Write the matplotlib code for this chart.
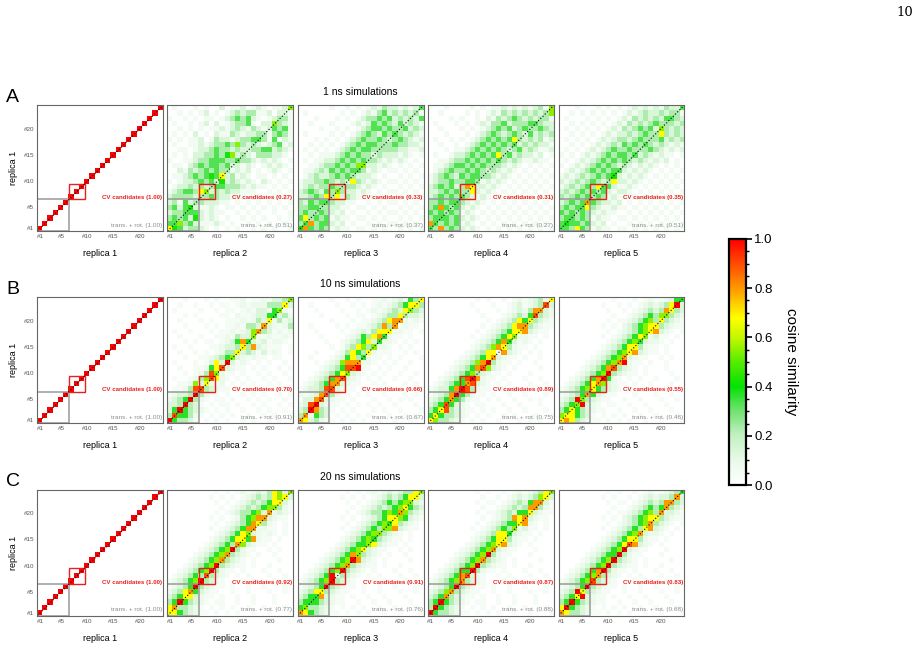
import numpy as np
import matplotlib
matplotlib.use("Agg")
from matplotlib import pyplot as plt
from matplotlib.colors import LinearSegmentedColormap
from matplotlib.patches import Rectangle
from matplotlib.cm import ScalarMappable
from matplotlib.colors import Normalize

plt.rcParams['font.family'] = ['Liberation Sans', 'DejaVu Sans']

# cosine similarity, replica 1 (rows, #24 at top) vs replica k (columns)
# one hex digit per cell = a similarity level, see the level tables
levels_1ns = [0.0, 0.06, 0.14, 0.23, 0.33, 0.42, 0.55, 0.68, 0.8, 0.9, 1.0]
levels_long = [0.0, 0.04, 0.08, 0.13, 0.22, 0.37, 0.55, 0.68, 0.8, 0.9, 1.0]

rep2_1ns = [
    "010001 010020 112012 101127", "001010 120101 232331 120241",
    "100101 011012 343421 012131", "010010 120201 233410 221321",
    "001010 101121 232132 124341", "010102 010211 321223 413431",
    "101011 201322 123343 314121", "010011 212334 363232 123412",
    "001101 223433 232333 442321", "010102 233435 622213 332210",
    "100112 334443 323321 212101", "011023 434434 321210 121210",
    "002132 343432 121201 012101", "011234 345472 312101 101010",
    "101223 434752 321210 210101", "012232 324443 332121 101010",
    "123443 722323 221110 010101", "233332 534322 111011 001010",
    "231423 322211 010101 010101", "342432 112101 101010 101010",
    "233344 212110 010101 001001", "343425 212101 001010 100101",
    "436342 111210 100101 010010", "754233 210101 010010 101001",
]
rep2_1ns_diag = [7, 4, 3, 4, 5, 3, 3, 6, 3, 2, 7, 3, 2, 4, 3, 2, 3, 4, 3, 2, 6, 3, 2, 6]

rep3_1ns = [
    "000000 100101 012132 212121", "010000 001010 121342 323211",
    "000100 010101 233434 232124", "001000 100012 124343 242321",
    "000010 010101 234434 324232", "010000 101012 343243 432321",
    "000101 010123 433434 343212", "001010 101234 344343 433221",
    "010101 012343 443433 322112", "001011 123434 334322 212101",
    "010112 234343 433212 121010", "001123 343436 322121 010101",
    "011232 434347 312101 101010", "012322 343472 221010 010101",
    "122334 323273 212101 101010", "123233 432332 121010 010101",
    "234324 343221 210101 101010", "223437 472321 101010 010101",
    "324342 322110 010101 101010", "334433 221101 101010 010101",
    "343443 212010 010101 101010", "473434 121101 101010 010101",
    "348344 212010 010101 101010", "584343 121101 101010 010101",
]
rep3_1ns_diag = [5, 4, 3, 3, 3, 4, 3, 6, 3, 2, 3, 4, 6, 3, 2, 3, 3, 2, 4, 3, 2, 3, 3, 4]

rep4_1ns = [
    "000100 001010 112121 212313", "001000 010101 213232 323246",
    "000010 100102 132343 232431", "010001 010121 334233 342322",
    "001000 101012 343423 423432", "000100 010123 432343 342323",
    "010010 101234 343473 232312", "001001 012343 434342 323221",
    "000101 123434 343434 232112", "010012 234343 473423 221201",
    "001123 343434 343232 112110", "011234 434343 432121 010101",
    "012343 343432 321210 101010", "123432 434423 212101 010101",
    "123343 344312 121010 101010", "234342 383221 210101 010101",
    "223434 347212 101010 101010", "234343 432121 010101 010101",
    "334342 321210 101010 101010", "348434 212101 010101 010101",
    "434343 121010 101010 101010", "343434 212101 010101 010101",
    "843434 121010 101010 101010", "438343 212101 010101 010101",
]
rep4_1ns_diag = [4, 4, 4, 3, 3, 4, 4, 3, 7, 3, 3, 2, 3, 4, 3, 2, 4, 3, 2, 3, 4, 3, 3, 6]

rep5_1ns = [
    "000100 010101 012121 213223", "001010 101010 121232 232361",
    "010001 010101 213232 324232", "001010 101012 132323 432323",
    "010101 010121 323434 243232", "001010 101212 232343 473232",
    "010101 012123 323434 342323", "001010 121232 434343 232121",
    "010101 212343 343434 321212", "101012 123434 434232 121101",
    "010121 234343 432321 212010", "101212 343432 321212 101010",
    "012123 434346 212121 010101", "121232 343432 121210 101010",
    "212323 432372 212101 010101", "123234 373421 121010 101010",
    "232343 434212 210101 010101", "323434 343121 101010 101010",
    "234343 432212 010101 010101", "343437 321121 101010 101010",
    "434343 212110 010101 010101", "347343 121101 101010 101010",
    "434434 212010 010101 010101", "343743 121101 101010 101010",
]
rep5_1ns_diag = [4, 5, 4, 3, 4, 8, 3, 3, 4, 3, 5, 4, 3, 3, 4, 3, 4, 3, 3, 6, 3, 4, 3, 4]

rep2_10ns = [
    "000100 010100 112011 213346", "001001 001011 012122 244473",
    "010000 100101 101213 325621", "000101 000011 021123 355342",
    "001000 101001 112124 372423", "000100 010101 121443 832124",
    "010010 001011 212368 431212", "001000 100112 143362 121121",
    "000101 011012 358432 312210", "010010 001123 347483 211101",
    "001001 010124 473431 312101", "000100 112345 632121 101100",
    "010001 01373a 312101 010010", "001001 125793 211010 100101",
    "000101 249621 101001 010010", "010012 469721 010100 101001",
    "001126 372120 101010 010100", "011249 943211 010101 001010",
    "123349 421101 001010 100101", "2345a4 210110 100101 010010",
    "334a43 101011 010010 100101", "35a543 210101 001001 010010",
    "4a5542 101010 100100 101001", "a54431 010101 001010 010100",
]
rep2_10ns_diag = [10, 9, 10, 10, 10, 10, 9, 7, 9, 6, 9, 10, 6, 7, 7, 5, 6, 8, 8, 7, 5, 6, 7, 6]

rep3_10ns = [
    "000000 100101 001121 232547", "001000 010010 101212 345774",
    "000100 001001 012123 437443", "000010 000101 101234 474332",
    "000000 100010 112347 832121", "001000 010101 123484 212110",
    "000100 001012 324773 221101", "000010 000123 547832 110100",
    "000001 001234 573222 101010", "000000 101347 642221 010100",
    "000100 012475 432111 001010", "001000 123574 321101 010001",
    "000101 236885 221010 100100", "000012 34594a 110101 001000",
    "000123 457a32 101010 010010", "001234 589321 010100 100100",
    "012345 893211 001010 001010", "123349 932110 100101 010001",
    "212389 421101 010010 001010", "133893 211010 001001 010100",
    "239a32 110101 010100 100010", "34a843 101010 001010 010001",
    "482543 010101 010001 001010", "873421 101010 100100 100100",
]
rep3_10ns_diag = [8, 8, 10, 10, 9, 9, 9, 8, 9, 6, 9, 8, 5, 7, 6, 5, 5, 7, 8, 8, 4, 6, 7, 7]

rep4_10ns = [
    "000000 000101 001012 123427", "000000 001000 100123 123493",
    "000000 000100 010123 248832", "000000 000010 001234 359432",
    "000000 000001 012347 574321", "000000 000010 123478 843211",
    "000000 000101 234577 832110", "000000 001012 345752 211010",
    "000000 000123 458531 210100", "000000 001234 687421 101000",
    "000000 012347 718321 010100", "000000 123457 832110 100100",
    "000001 23468a 421101 001000", "000012 345896 321010 000100",
    "000123 456432 110100 010000", "001234 59a821 101000 100100",
    "012345 589321 010100 010010", "123358 a94211 001010 001001",
    "12348a 542110 100100 100010", "234585 421101 010010 010100",
    "345953 210110 001001 000100", "457943 211010 100100 100010",
    "575443 210101 001010 001001", "764432 101010 010001 010100",
]
rep4_10ns_diag = [7, 7, 7, 9, 8, 10, 10, 8, 10, 4, 9, 10, 8, 1, 7, 5, 6, 7, 8, 7, 9, 8, 9, 7]

rep5_10ns = [
    "000000 000010 001012 112354", "000000 001001 010123 2347a3",
    "000000 000100 101234 348743", "000000 000010 012345 466432",
    "000000 000101 123456 474321", "000000 001010 234567 743211",
    "000000 000101 234567 832101", "000000 001012 345762 311010",
    "000000 000123 456532 210100", "000000 001234 577421 101000",
    "000000 012345 678321 101000", "000000 123456 832110 010100",
    "000001 234568 a21101 001000", "000012 345894 321010 001000",
    "000123 456a43 211010 000100", "001234 58a521 010100 100010",
    "012345 786321 101001 000100", "123456 754321 010010 001000",
    "123458 532110 001000 100100", "234a64 321100 100100 010010",
    "3456a3 210110 010010 001000", "457543 211001 001001 000100",
    "677543 101010 100100 100010", "787432 110101 010010 010001",
]
rep5_10ns_diag = [7, 7, 7, 6, 6, 8, 7, 8, 10, 10, 9, 8, 8, 7, 7, 5, 6, 7, 7, 7, 6, 7, 10, 5]

rep2_20ns = [
    "000000 000101 012123 247634", "000000 001010 101234 347673",
    "000000 000101 012343 457431", "000000 000010 123434 563421",
    "000000 000101 234456 382321", "000000 001010 124568 832110",
    "000000 000101 234587 421010", "000000 001012 345882 211010",
    "000000 000123 457632 121010", "000000 001234 578582 110100",
    "000000 012345 486321 101000", "000000 123456 a42110 010100",
    "000001 234568 432101 001000", "000012 345684 321010 000100",
    "000123 456a43 211010 010000", "001234 56a421 101000 100100",
    "012345 494321 010100 010010", "123456 a43210 001010 001000",
    "12345a 432110 100100 100010", "234785 321100 100100 010010",
    "345773 211010 010010 001000", "45a543 210110 010010 001000",
    "784432 101010 100100 100010", "775432 110101 010010 010001",
]
rep2_20ns_diag = [7, 8, 10, 7, 8, 10, 10, 9, 10, 10, 8, 8, 10, 8, 7, 6, 8, 7, 8, 8, 6, 7, 7, 6]

rep3_20ns = [
    "000000 000101 012123 234476", "000000 001010 101234 345773",
    "000000 000101 012345 456732", "000000 000010 123434 567543",
    "000000 000101 234456 586432", "000000 001010 123457 765321",
    "000000 000101 234565 743210", "000000 001012 345456 832110",
    "000000 000123 456743 210100", "000000 001234 567432 110100",
    "000000 012345 577321 101000", "000000 123456 732110 010100",
    "000001 234586 432101 001000", "000012 345698 321010 000100",
    "000123 456843 211010 010000", "001234 56a432 101000 100100",
    "012345 a24321 010100 010010", "123456 a43210 001010 001000",
    "12345a 432110 100100 100010", "234774 321100 100100 010010",
    "345583 211010 010010 001000", "455543 211001 001001 000100",
    "564432 101010 100100 100010", "875432 110101 010010 010001",
]
rep3_20ns_diag = [8, 6, 5, 5, 7, 10, 10, 2, 10, 8, 10, 6, 7, 6, 5, 6, 6, 5, 7, 8, 7, 6, 7, 6]

rep4_20ns = [
    "000000 000101 001012 123476", "000000 000010 010123 234673",
    "000000 000101 101234 358731", "000000 000010 012343 483421",
    "000000 000101 123435 573211", "000000 000010 123487 832110",
    "000000 000101 234557 821010", "000000 001012 345462 311010",
    "000000 000123 477532 110100", "000000 001234 577421 101000",
    "000000 012345 678321 010000", "000000 123456 832110 001000",
    "000001 23456a 421100 010000", "000012 345684 321010 000100",
    "000123 456a43 211010 010000", "001234 55a421 101000 100100",
    "012345 893210 010100 010010", "123456 843210 001010 001000",
    "12345a 432110 100100 100010", "234684 321100 100100 010010",
    "345843 211010 010010 001000", "45a543 210110 010010 001000",
    "4a5432 101010 100100 100010", "a54432 110101 010010 010001",
]
rep4_20ns_diag = [10, 10, 10, 8, 8, 10, 8, 9, 10, 10, 8, 10, 8, 7, 7, 5, 6, 7, 8, 7, 8, 8, 7, 6]

rep5_20ns = [
    "000000 000101 001012 112345", "000000 001010 010123 233483",
    "000000 000101 101234 348843", "000000 000010 012345 458432",
    "000000 000101 123456 483321", "000000 001010 234567 743211",
    "000000 000101 234568 432101", "000000 001012 345478 321010",
    "000000 000123 456832 210100", "000000 001234 577421 101000",
    "000000 012345 798321 010000", "000000 123456 a32110 001000",
    "000001 23455a 421100 010000", "000012 3456a4 321010 000100",
    "000123 456a43 211010 010000", "001234 58a421 101000 100100",
    "012345 684321 010100 010010", "123456 943210 001010 001000",
    "12345a 432110 100100 100010", "234a74 321100 100100 010010",
    "3457a3 211010 010010 001000", "45a543 211001 001001 000100",
    "7a5432 101010 100100 100010", "874432 110101 010010 010001",
]
rep5_20ns_diag = [8, 10, 10, 7, 7, 10, 9, 8, 10, 10, 10, 10, 10, 9, 7, 8, 7, 8, 7, 8, 8, 8, 8, 5]

row_titles = ["1 ns simulations", "10 ns simulations", "20 ns simulations"]
panel_letters = ["A", "B", "C"]
replica_names = ["replica 1", "replica 2", "replica 3", "replica 4", "replica 5"]
cv_scores = [[1.00, 0.27, 0.33, 0.31, 0.35],
             [1.00, 0.70, 0.66, 0.89, 0.55],
             [1.00, 0.92, 0.91, 0.87, 0.83]]
tr_scores = [[1.00, 0.51, 0.37, 0.27, 0.51],
             [1.00, 0.91, 0.67, 0.75, 0.46],
             [1.00, 0.77, 0.76, 0.88, 0.68]]
tick_pos = [1, 5, 10, 15, 20]
tick_labels = ["#1", "#5", "#10", "#15", "#20"]


def to_matrix(rows, diag, levels):
    m = np.array([[levels[int(c, 16)] for c in r.replace(" ", "")] for r in rows])
    m = m[::-1]  # row #1 first
    for i, d in enumerate(diag):
        m[i, i] = levels[d]
    return m


self_sim = np.eye(24)
matrices = [
    [self_sim,
     to_matrix(rep2_1ns, rep2_1ns_diag, levels_1ns), to_matrix(rep3_1ns, rep3_1ns_diag, levels_1ns),
     to_matrix(rep4_1ns, rep4_1ns_diag, levels_1ns), to_matrix(rep5_1ns, rep5_1ns_diag, levels_1ns)],
    [self_sim,
     to_matrix(rep2_10ns, rep2_10ns_diag, levels_long), to_matrix(rep3_10ns, rep3_10ns_diag, levels_long),
     to_matrix(rep4_10ns, rep4_10ns_diag, levels_long), to_matrix(rep5_10ns, rep5_10ns_diag, levels_long)],
    [self_sim,
     to_matrix(rep2_20ns, rep2_20ns_diag, levels_long), to_matrix(rep3_20ns, rep3_20ns_diag, levels_long),
     to_matrix(rep4_20ns, rep4_20ns_diag, levels_long), to_matrix(rep5_20ns, rep5_20ns_diag, levels_long)],
]

cmap = LinearSegmentedColormap.from_list("cos", [
    (0.0, "#ffffff"), (0.1, "#e8f9e8"), (0.2, "#c2f1c2"), (0.3, "#72e272"),
    (0.4, "#05e205"), (0.5, "#55ec00"), (0.6, "#c4f700"), (0.68, "#ffff00"),
    (0.8, "#ff9900"), (1.0, "#ff0000")])

W, H = 920, 671
fig = plt.figure(figsize=(W / 100, H / 100), dpi=100)

lefts = [37.5, 167.5, 297.8, 428.2, 558.5]
tops = [105, 297, 489.5]
size = 126

for r in range(3):
    for c in range(5):
        ax = fig.add_axes([lefts[c] / W, 1 - (tops[r] + size) / H, size / W, size / H])
        ax.imshow(matrices[r][c], cmap=cmap, vmin=0, vmax=1, origin="lower",
                  extent=(0.5, 24.5, 0.5, 24.5), interpolation="nearest", aspect="auto")
        ax.plot([0.5, 24.5], [0.5, 24.5], color="black", lw=0.8, ls=(0, (1, 1.8)))
        ax.add_patch(Rectangle((0.5, 0.5), 6, 6, fill=False, ec="#999999", lw=1.1))
        ax.add_patch(Rectangle((6.5, 6.5), 3, 3, fill=False, ec="#e8201c", lw=1.0))
        ax.text(24.3, 6.8, f"CV candidates ({cv_scores[r][c]:.2f})", color="#e8201c",
                fontsize=4.4, fontweight="bold", ha="right", va="center")
        ax.text(24.3, 1.6, f"trans. + rot. ({tr_scores[r][c]:.2f})", color="#8c8c8c",
                fontsize=4.6, ha="right", va="center")
        ax.set_xlim(0.5, 24.5)
        ax.set_ylim(0.5, 24.5)
        ax.set_xticks(tick_pos)
        ax.set_xticklabels(tick_labels, fontsize=4.5, color="#555555")
        if c == 0:
            ax.set_yticks(tick_pos)
            ax.set_yticklabels(tick_labels, fontsize=4.5, color="#555555")
            ax.set_ylabel("replica 1", fontsize=6.5, labelpad=4)
        else:
            ax.set_yticks([])
        ax.tick_params(length=0, pad=2.5)
        ax.set_xlabel(replica_names[c], fontsize=6.5, labelpad=7)
        for s in ax.spines.values():
            s.set_color("#666666")
            s.set_linewidth(0.8)
    fig.text(360.5 / W, 1 - (tops[r] - 13) / H, row_titles[r], fontsize=7.5,
             ha="center", va="center")
    fig.text(6 / W, 1 - (tops[r] - 8) / H, panel_letters[r], fontsize=14,
             ha="left", va="center")

cax = fig.add_axes([729.5 / W, 1 - 485 / H, 16.5 / W, 246 / H])
cb = fig.colorbar(ScalarMappable(norm=Normalize(0, 1), cmap=cmap), cax=cax)
cb.set_ticks([0, 0.2, 0.4, 0.6, 0.8, 1.0])
cb.set_ticklabels(["0.0", "0.2", "0.4", "0.6", "0.8", "1.0"])
cb.ax.minorticks_on()
cb.ax.yaxis.set_minor_locator(matplotlib.ticker.MultipleLocator(0.05))
cb.ax.tick_params(which="major", labelsize=9.5, length=4, width=1.2, pad=2)
cb.ax.tick_params(which="minor", length=2.5, width=1.0)
cb.outline.set_linewidth(1.6)
cb.set_label("cosine similarity", rotation=270, fontsize=11, labelpad=18)

fig.text(913 / W, 1 - 12 / H, "10", fontsize=9.5, family="DejaVu Serif",
         ha="right", va="center")

fig.savefig("out.png", dpi=100)
